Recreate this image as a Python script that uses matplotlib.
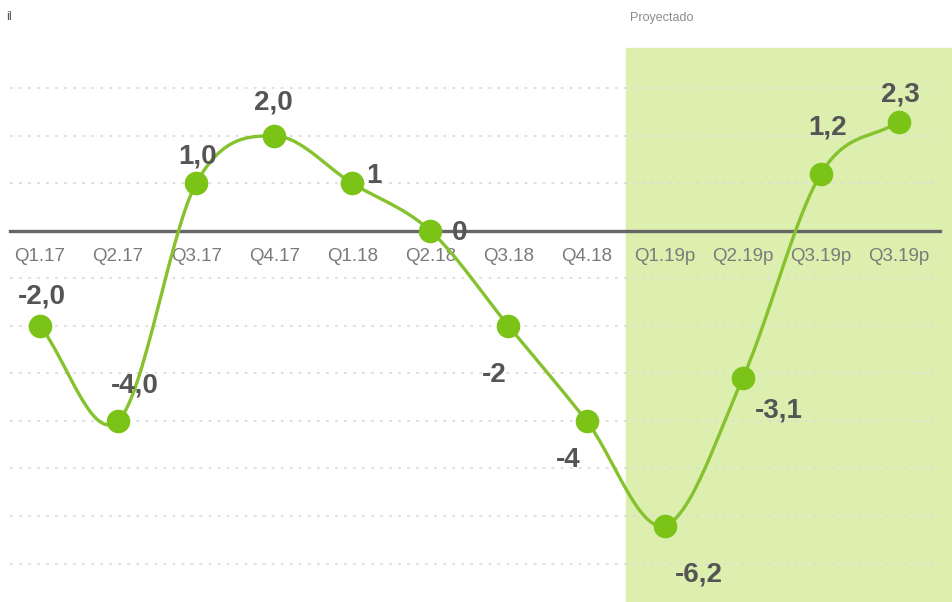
import numpy as np
import matplotlib.pyplot as plt

# quarters and values
quarters = ['Q1.17', 'Q2.17', 'Q3.17', 'Q4.17', 'Q1.18', 'Q2.18',
            'Q3.18', 'Q4.18', 'Q1.19p', 'Q2.19p', 'Q3.19p', 'Q3.19p']
values = [-2.0, -4.0, 1.0, 2.0, 1.0, 0.0, -2.0, -4.0, -6.2, -3.1, 1.2, 2.3]
labels = ['-2,0', '-4,0', '1,0', '2,0', '1', '0', '-2', '-4', '-6,2', '-3,1', '1,2', '2,3']
first_projected = 8

# label offsets in pixels (dx, dy)
offsets = [(2, 29), (17, 35), (1, 27), (-1, 33), (22, 7), (29, -2),
           (-14, -49), (-18, -39), (34, -49), (36, -32), (7, 46), (1, 27)]


def catmull_rom(x, y, n=30):
    # smooth curve through the points, like the spreadsheet "smoothed line"
    x = np.asarray(x, float)
    y = np.asarray(y, float)
    px = np.concatenate([[2 * x[0] - x[1]], x, [2 * x[-1] - x[-2]]])
    py = np.concatenate([[2 * y[0] - y[1]], y, [2 * y[-1] - y[-2]]])
    xs, ys = [], []
    t = np.linspace(0, 1, n)
    for i in range(1, len(px) - 2):
        for p, out in ((px, xs), (py, ys)):
            p0, p1, p2, p3 = p[i - 1], p[i], p[i + 1], p[i + 2]
            out.extend(0.5 * ((2 * p1) + (-p0 + p2) * t
                              + (2 * p0 - 5 * p1 + 4 * p2 - p3) * t ** 2
                              + (-p0 + 3 * p1 - 3 * p2 + p3) * t ** 3))
    return np.array(xs), np.array(ys)


plt.rcParams['font.family'] = ['Liberation Sans', 'DejaVu Sans']

fig = plt.figure(figsize=(9.52, 6.02), dpi=100)
ax = fig.add_axes([0, 0, 1, 1])
ax.set_xlim(-0.512, 11.68)
ax.set_ylim(-7.81, 4.86)
ax.axis('off')

x = np.arange(len(values))

# projected area
ax.axvspan(first_projected - 0.5, 11.68, ymin=0, ymax=(3.85 + 7.81) / (4.86 + 7.81),
           color='#dcefaf', zorder=0)
ax.text(first_projected - 0.45, 4.48, 'Proyectado', fontsize=9, color='#8a8a8a',
        ha='left', va='center')
ax.text(-0.43, 4.5, 'il', fontsize=9, color='#555555', ha='left', va='center')

# dotted grid
for g in [3, 2, 1, -1, -2, -3, -4, -5, -6, -7]:
    ax.plot([-0.38, 11.5], [g, g], ls=(0, (1.5, 3.5)), color='#dcdcdc', lw=1.3, zorder=1)

# zero axis
ax.plot([-0.384, 11.52], [0, 0], color='#666666', lw=2.4, zorder=2)
for xi, q in zip(x, quarters):
    ax.text(xi, -0.53, q, fontsize=13.5, color='#7a7a7a', ha='center', va='center')

# smooth line and markers
sx, sy = catmull_rom(x, values)
ax.plot(sx, sy, color='#85c22e', lw=2.4, zorder=3)
ax.plot(x, values, 'o', color='#7cc318', markersize=17, markeredgewidth=0, zorder=4)

for xi, v, lab, (dx, dy) in zip(x, values, labels, offsets):
    ax.annotate(lab, (xi, v), xytext=(dx, dy), textcoords='offset pixels',
                ha='center', va='center', fontsize=20, fontweight='bold',
                color='#555555', zorder=5)

fig.savefig('out.png', dpi=100)
